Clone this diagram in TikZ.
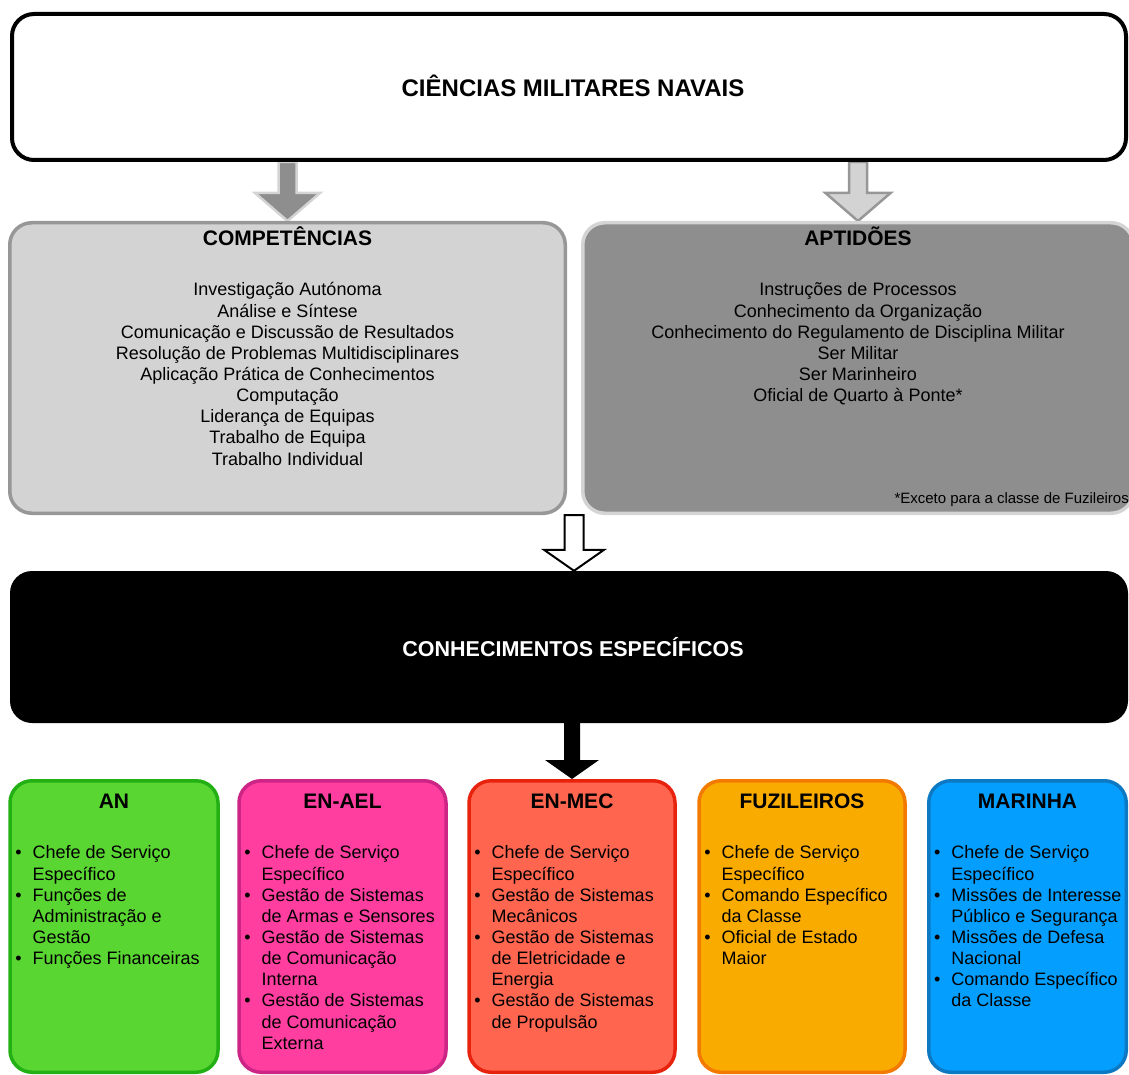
\documentclass[tikz,border=0pt]{standalone}
\usepackage{fontspec}
\setmainfont{Liberation Sans}
\usetikzlibrary{positioning,calc,backgrounds}
\definecolor{compfill}{HTML}{D3D3D3}
\definecolor{compline}{HTML}{979797}
\definecolor{aptfill}{HTML}{8E8E8E}
\definecolor{aptline}{HTML}{D4D4D4}
\definecolor{anfill}{HTML}{5AD633}
\definecolor{anline}{HTML}{22B014}
\definecolor{aelfill}{HTML}{FF3EA0}
\definecolor{aelline}{HTML}{CC2585}
\definecolor{mecfill}{HTML}{FF654F}
\definecolor{mecline}{HTML}{E8230D}
\definecolor{fuzfill}{HTML}{FAAB00}
\definecolor{fuzline}{HTML}{F27A00}
\definecolor{marfill}{HTML}{049EFF}
\definecolor{marline}{HTML}{0D79C2}
\begin{document}
\begin{tikzpicture}[x=1pt,y=-1pt,
  every node/.style={inner sep=0pt,font=\fontsize{18}{21.15}\selectfont},
  panel/.style 2 args={draw=#2,fill=#1,line width=3.5pt,rounded corners=22pt},
  heading/.style={font=\bfseries\fontsize{21}{24}\selectfont,anchor=mid},
  entry/.style={anchor=mid},
  item/.style={anchor=mid west},
  blockarrow/.style n args={3}{to path={let \p1=(\tikztostart),\p2=(\tikztotarget) in
    (\x1-#1,\y1) -- (\x1-#1,\y2+#3) -- (\x1-#2,\y2+#3) -- (\x1,\y2)
    -- (\x1+#2,\y2+#3) -- (\x1+#1,\y2+#3) -- (\x1+#1,\y1) -- cycle}}]
  \useasboundingbox (0,0) rectangle (1129,1075);

  \node[panel={white}{black},line width=4pt,minimum width=1114pt,minimum height=146pt] (top) at (569,87) {};
  \node[heading,font=\bfseries\fontsize{24}{28}\selectfont] (toptitle) at ($(top.center)+(4,7)$) {CIÊNCIAS MILITARES NAVAIS};

  \node[panel={compfill}{compline},minimum width=555.5pt,minimum height=290.5pt] (comp) at (287.5,368) {};
  \node[panel={aptfill}{aptline},minimum width=550.5pt,minimum height=290.5pt] (apt) at (858,368) {};
  \node[heading] (comptitle) at ($(comp.north)+(0,21.5)$) {COMPETÊNCIAS};
  \node[heading] (apttitle) at ($(apt.north)+(0,21.5)$) {APTIDÕES};
  \foreach \lin [count=\i] in {Investigação Autónoma, Análise e Síntese, Comunicação e Discussão de Resultados,
      Resolução de Problemas Multidisciplinares, Aplicação Prática de Conhecimentos, Computação,
      Liderança de Equipas, Trabalho de Equipa, Trabalho Individual}
    \node[entry] (comp-\i) at ($(comp.north)+(0,{72.25+21.15*(\i-1)})$) {\lin};
  \foreach \lin [count=\i] in {Instruções de Processos, Conhecimento da Organização,
      Conhecimento do Regulamento de Disciplina Militar, Ser Militar, Ser Marinheiro, Oficial de Quarto à Ponte*}
    \node[entry] (apt-\i) at ($(apt.north)+(0,{72.25+21.15*(\i-1)})$) {\lin};
  \node[anchor=mid east,font=\fontsize{15}{18}\selectfont] (note) at ($(apt.south east)+(-6,-14)$) {*Exceto para a classe de Fuzileiros};

  \node[fill=black,rounded corners=22pt,minimum width=1118pt,minimum height=152pt] (cono) at (569,647) {};
  \node[heading,text=white,font=\bfseries\fontsize{21.5}{24}\selectfont] (conotitle) at ($(cono.center)+(4,6.5)$) {CONHECIMENTOS ESPECÍFICOS};

  \foreach \nm/\cx/\bw/\ttl in {an/114/208/AN, ael/342.5/207/EN-AEL, mec/572/206/EN-MEC,
      fuz/802/206/FUZILEIROS, mar/1027.5/197.5/MARINHA} {
    \node[panel={\nm fill}{\nm line},minimum width=\bw pt,minimum height=291.5pt] (\nm) at (\cx,926.5) {};
    \node[heading] (\nm-title) at ($(\nm.north)+(0,26.5)$) {\ttl};
  }
  \foreach \bul/\lin [count=\i] in {•/Chefe de Serviço, /Específico, •/Funções de, /Administração e,
      /Gestão, •/Funções Financeiras}
    \node[item] (an-\i) at ($(an.north west)+(24.25,{77.25+21.15*(\i-1)})$) {\llap{\bul\hspace{11pt}}\lin};
  \foreach \bul/\lin [count=\i] in {•/Chefe de Serviço, /Específico, •/Gestão de Sistemas, /de Armas e Sensores,
      •/Gestão de Sistemas, /de Comunicação, /Interna, •/Gestão de Sistemas, /de Comunicação, /Externa}
    \node[item] (ael-\i) at ($(ael.north west)+(24.25,{77.25+21.15*(\i-1)})$) {\llap{\bul\hspace{11pt}}\lin};
  \foreach \bul/\lin [count=\i] in {•/Chefe de Serviço, /Específico, •/Gestão de Sistemas, /Mecânicos,
      •/Gestão de Sistemas, /de Eletricidade e, /Energia, •/Gestão de Sistemas, /de Propulsão}
    \node[item] (mec-\i) at ($(mec.north west)+(24.25,{77.25+21.15*(\i-1)})$) {\llap{\bul\hspace{11pt}}\lin};
  \foreach \bul/\lin [count=\i] in {•/Chefe de Serviço, /Específico, •/Comando Específico, /da Classe,
      •/Oficial de Estado, /Maior}
    \node[item] (fuz-\i) at ($(fuz.north west)+(24.25,{77.25+21.15*(\i-1)})$) {\llap{\bul\hspace{11pt}}\lin};
  \foreach \bul/\lin [count=\i] in {•/Chefe de Serviço, /Específico, •/Missões de Interesse, /Público e Segurança,
      •/Missões de Defesa, /Nacional, •/Comando Específico, /da Classe}
    \node[item] (mar-\i) at ($(mar.north west)+(24.25,{77.25+21.15*(\i-1)})$) {\llap{\bul\hspace{11pt}}\lin};

  \begin{scope}[on background layer]
    \draw[line width=2.5pt,draw=aptline,fill=aptfill,blockarrow={9pt}{32.5pt}{28pt}] (top.south -| comp.north) to (comp.north);
    \draw[line width=2.5pt,draw=compline,fill=compfill,blockarrow={9pt}{32.5pt}{28pt}] (top.south -| apt.north) to (apt.north);
    \coordinate (gap) at ($(comp.south east)!0.5!(apt.south west)$);
    \draw[line width=2pt,fill=white,blockarrow={9.5pt}{30pt}{21pt}] (gap) to (gap |- cono.north);
    \fill[blockarrow={8pt}{27pt}{19pt}] (mec.north |- cono.south) to (mec.north);
  \end{scope}
\end{tikzpicture}
\end{document}
